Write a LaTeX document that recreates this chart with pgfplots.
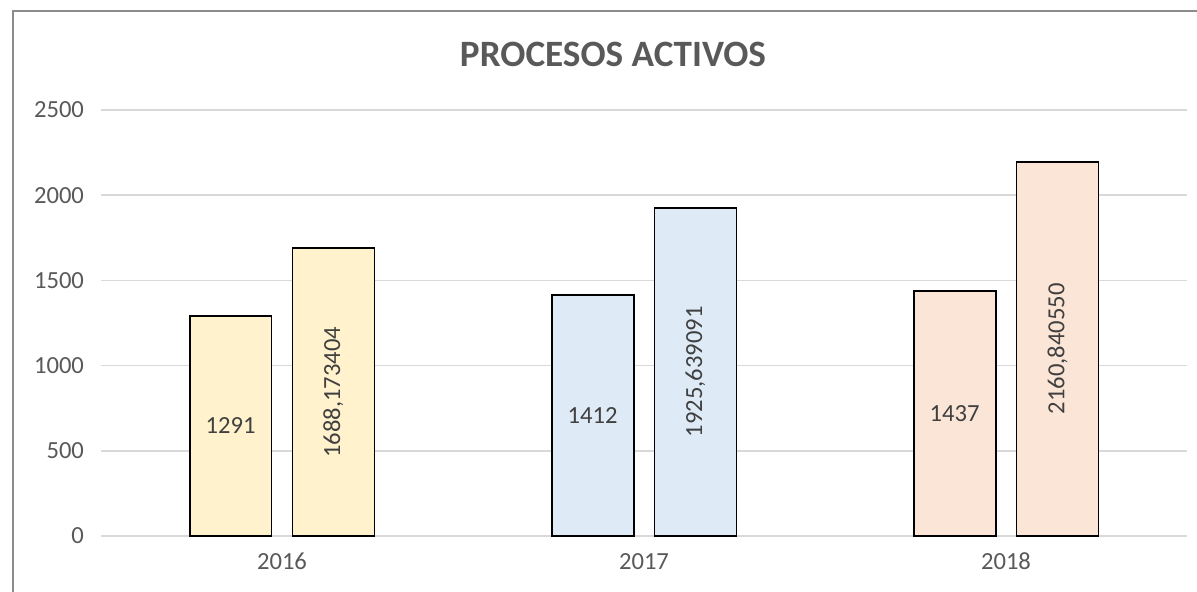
\documentclass[border=0pt]{standalone}
\usepackage{pgfplots}
\pgfplotsset{compat=1.18}
\usepackage{fontspec}
\setmainfont{Carlito}
\definecolor{y16}{HTML}{FFF2CC}
\definecolor{y17}{HTML}{DEEBF7}
\definecolor{y18}{HTML}{FBE5D6}
\definecolor{txt}{HTML}{595959}
\definecolor{lbl}{HTML}{404040}
\definecolor{grd}{HTML}{D9D9D9}
\definecolor{frm}{HTML}{8C8C8C}
\pgfplotsset{
  barbase/.style={ybar, bar width=0.2265, draw=black, line width=0.9pt,
    point meta=explicit symbolic, nodes near coords,
    visualization depends on={y \as \rawy},
    nodes near coords style={anchor=center, inner sep=0pt,
      font=\fontsize{12.3}{14}\selectfont, color=lbl}},
  barA/.style={barbase, bar shift=-0.142,
    nodes near coords style={shift={(axis direction cs:-0.142,-\rawy/2)}}},
  barB/.style={barbase, bar shift=0.142,
    nodes near coords style={shift={(axis direction cs:0.142,-\rawy/2)}, rotate=90}},
}
\begin{document}
\begin{tikzpicture}[x=1pt,y=1pt]
\useasboundingbox (0,0) rectangle (598.5,296);
\draw[frm, line width=1pt] (6.5,-2) -- (6.5,290.5) -- (600,290.5);
\node[inner sep=0pt, color=txt, font=\fontsize{18.6}{20}\selectfont\bfseries] at (306.5,269) {PROCESOS ACTIVOS};
\begin{axis}[
  at={(50.5pt,28pt)}, anchor=south west,
  width=543pt, height=213pt, scale only axis,
  xmin=-0.5, xmax=2.5, ymin=0, ymax=2500,
  xtick={0,1,2}, xticklabels={2016,2017,2018},
  ytick={0,500,1000,1500,2000,2500},
  ymajorgrids, grid style={grd, line width=0.8pt},
  axis line style={draw=none},
  major tick length=0pt,
  tick label style={font=\fontsize{12.3}{14}\selectfont, color=txt},
  xticklabel style={yshift=-5pt},
  yticklabel style={xshift=-5pt},
  /pgf/number format/assume math mode=true,
  /pgf/number format/1000 sep={},
  clip=false,
]
\addplot[barA, fill=y16] table[meta=label] {
x y label
0 1291 1291
};
\addplot[barB, fill=y16] table[meta=label] {
x y label
0 1688.17 1688,173404
};
\addplot[barA, fill=y17] table[meta=label] {
x y label
1 1412 1412
};
\addplot[barB, fill=y17] table[meta=label] {
x y label
1 1925.64 1925,639091
};
\addplot[barA, fill=y18] table[meta=label] {
x y label
2 1437 1437
};
\addplot[barB, fill=y18] table[meta=label] {
x y label
2 2196 2160,840550
};
\end{axis}
\end{tikzpicture}
\end{document}
